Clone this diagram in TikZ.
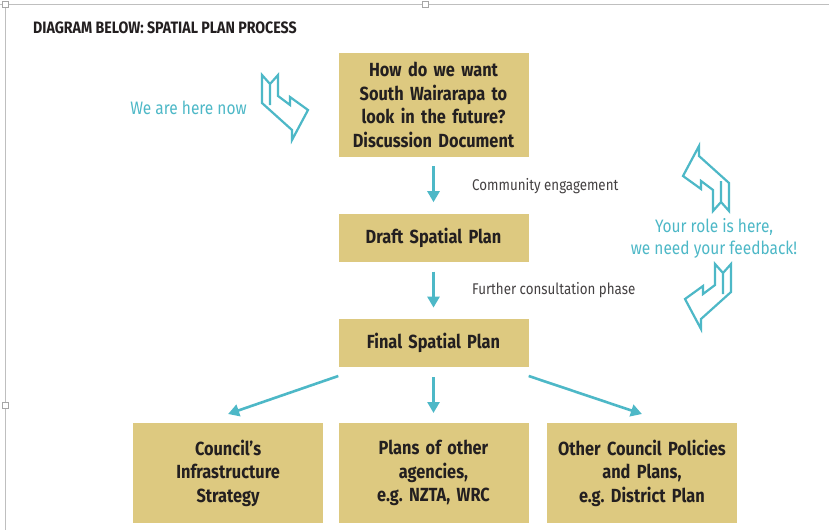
\documentclass[tikz,border=0pt]{standalone}
\usepackage{fontspec}
\setmainfont{Fira Sans}[FakeStretch=0.86]
\usepackage{xcolor}
\usepackage{tikz}
\usetikzlibrary{calc,arrows.meta,positioning}
\frenchspacing
\definecolor{sand}{RGB}{221,201,128}
\definecolor{spteal}{RGB}{77,184,199}
\definecolor{ink}{RGB}{35,31,32}
\tikzset{
  stage/.style={fill=sand, minimum width=190pt, minimum height=48pt, text width=186pt, align=center, inner sep=0pt, text=ink, font=\fontsize{19}{23.5}\selectfont\bfseries},
  note/.style={anchor=west, inner sep=0pt, text=ink!85, font=\fontsize{15.5}{18}\selectfont},
  hint/.style={align=center, inner sep=0pt, text=spteal, font=\fontsize{18}{22}\selectfont},
  flow/.style={draw=spteal, line width=2.6pt, -{Triangle[length=11pt,width=12pt]}},
  ribbon/.pic={
    \draw[spteal, line width=2.2pt, line join=miter]
      (0,0) -- (8,-9) -- (16,0) -- (16,-21) -- (28,-30) -- (28,-22) -- (46,-35)
      -- (30,-65) -- (30,-55) -- (0,-28) -- cycle (8,-9) -- (8,-30);
  }
}
\begin{document}
\begin{tikzpicture}[x=1pt, y=1pt]
  \useasboundingbox[fill=white] (0,0) rectangle (829,-530);
  % window frame
  \draw[black!25, line width=0.8pt] (0,-4) -- (829,-4) (5,-4) -- (5,-530);
  \foreach \hx/\hy in {5/4, 425/4, 5/405}
    \draw[black!35, fill=white, line width=0.6pt] (\hx-3,-\hy-3) rectangle (\hx+3,-\hy+3);

  \node[anchor=west, inner sep=0pt, text=ink, font=\fontsize{16.5}{18}\selectfont\bfseries] (title) at (33,-28) {DIAGRAM BELOW: SPATIAL PLAN PROCESS};

  % main column
  \node[stage, minimum height=104pt] (disc) at (433.5,-105) {How do we want\\South Wairarapa to\\look in the future?\\Discussion Document};
  \node[stage, below=57pt of disc] (draft) {Draft Spatial Plan};
  \node[stage, below=56pt of draft] (fin) {Final Spatial Plan};
  \node[stage, minimum height=100pt, below=56pt of fin] (agen) {Plans of other\\agencies,\\e.g. NZTA, WRC};
  \node[stage, minimum height=100pt, left=15pt of agen] (infra) {Council’s\\Infrastructure\\Strategy};
  \node[stage, minimum height=100pt, right=18pt of agen] (other) {Other Council Policies\\and Plans,\\e.g. District Plan};

  \draw[flow, shorten <=9pt, shorten >=12pt] (disc) -- (draft);
  \draw[flow, shorten <=9pt, shorten >=11pt] (draft) -- (fin);
  \draw[flow, shorten <=10pt, shorten >=10pt] (fin) -- (agen);
  \draw[flow] ([yshift=-9pt]fin.south west) -- ([yshift=9pt]infra.north);
  \draw[flow] ([yshift=-9pt]fin.south east) -- ([yshift=9pt]other.north);

  \node[note] (engage) at ($(disc.south)!0.5!(draft.north)+(38.5,0)$) {Community engagement};
  \node[note] (consult) at ($(draft.south)!0.5!(fin.north)+(38.5,0)$) {Further consultation phase};

  % teal hints
  \node[hint] (now) at (188.5,-108) {We are here now};
  \node[hint] (role) at (714,-238) {Your role is here,\\we need your feedback!};
  \pic at (262,-75) {ribbon};
  \pic[rotate=180] at (729,-211) {ribbon};
  \pic[xscale=-1] at (731,-264) {ribbon};
\end{tikzpicture}
\end{document}
